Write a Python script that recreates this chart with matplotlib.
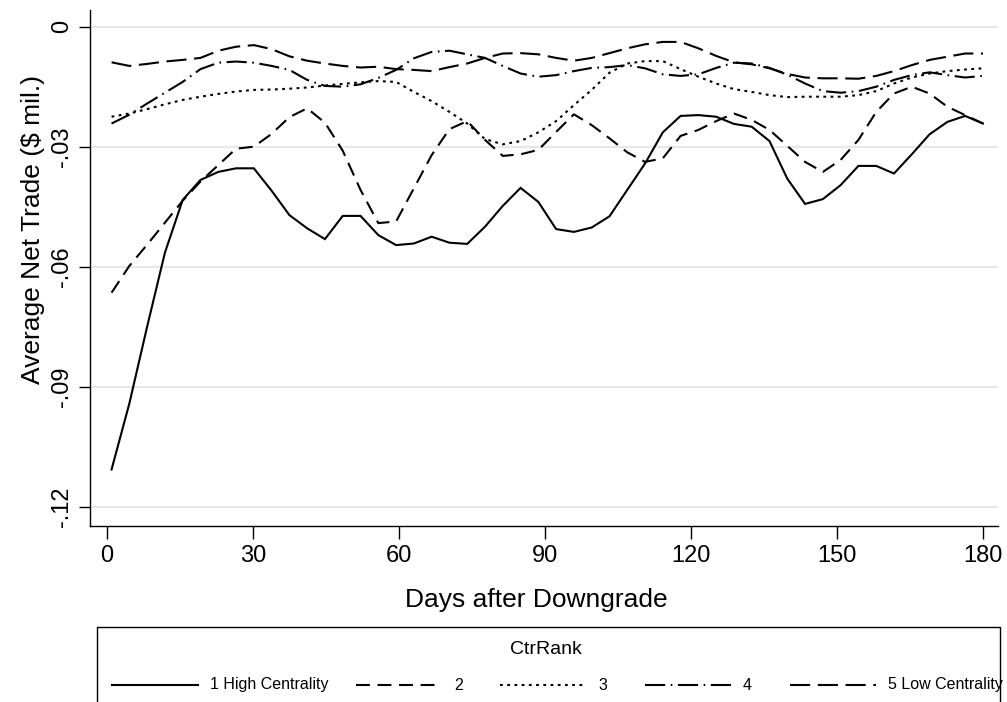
import numpy as np
import matplotlib
matplotlib.use("Agg")
import matplotlib.pyplot as plt
from matplotlib.lines import Line2D
from matplotlib.patches import Rectangle

plt.rcParams['font.family'] = ['Liberation Sans', 'DejaVu Sans']
plt.rcParams['lines.scale_dashes'] = False

# ---- data ----
days = np.linspace(1, 180, 50)
xticks = [0, 30, 60, 90, 120, 150, 180]
yticks = [0, -0.03, -0.06, -0.09, -0.12]
ytick_labels = ["0", "-.03", "-.06", "-.09", "-.12"]
series_labels = ["1 High Centrality", "2", "3", "4", "5 Low Centrality"]

rank1 = [-0.1107, -0.0942, -0.0750, -0.0565, -0.0433, -0.0383, -0.0363, -0.0354, -0.0354, -0.0410,
         -0.0471, -0.0504, -0.0531, -0.0473, -0.0473, -0.0521, -0.0546, -0.0542, -0.0525, -0.0540,
         -0.0543, -0.0500, -0.0448, -0.0403, -0.0438, -0.0506, -0.0513, -0.0502, -0.0474, -0.0408,
         -0.0342, -0.0264, -0.0223, -0.0221, -0.0225, -0.0243, -0.0250, -0.0286, -0.0380, -0.0443,
         -0.0431, -0.0396, -0.0348, -0.0348, -0.0367, -0.0319, -0.0269, -0.0238, -0.0223, -0.0242]
rank2 = [-0.0665, -0.0598, -0.0545, -0.0490, -0.0435, -0.0387, -0.0346, -0.0305, -0.0300, -0.0268,
         -0.0226, -0.0204, -0.0240, -0.0310, -0.0408, -0.0491, -0.0487, -0.0404, -0.0321, -0.0256,
         -0.0236, -0.0283, -0.0323, -0.0319, -0.0308, -0.0263, -0.0219, -0.0246, -0.0279, -0.0314,
         -0.0338, -0.0329, -0.0273, -0.0258, -0.0236, -0.0217, -0.0233, -0.0258, -0.0298, -0.0338,
         -0.0363, -0.0333, -0.0283, -0.0213, -0.0167, -0.0150, -0.0167, -0.0200, -0.0221, -0.0242]
rank3 = [-0.0225, -0.0217, -0.0206, -0.0194, -0.0183, -0.0175, -0.0168, -0.0162, -0.0158, -0.0157,
         -0.0155, -0.0152, -0.0147, -0.0143, -0.0139, -0.0136, -0.0138, -0.0163, -0.0186, -0.0213,
         -0.0242, -0.0281, -0.0294, -0.0286, -0.0264, -0.0236, -0.0196, -0.0158, -0.0115, -0.0092,
         -0.0086, -0.0086, -0.0106, -0.0125, -0.0142, -0.0156, -0.0163, -0.0171, -0.0176, -0.0175,
         -0.0175, -0.0175, -0.0171, -0.0161, -0.0142, -0.0127, -0.0117, -0.0111, -0.0107, -0.0104]
rank4 = [-0.0242, -0.0220, -0.0192, -0.0165, -0.0138, -0.0106, -0.0090, -0.0087, -0.0090, -0.0098,
         -0.0108, -0.0133, -0.0148, -0.0150, -0.0144, -0.0128, -0.0108, -0.0079, -0.0063, -0.0060,
         -0.0069, -0.0078, -0.0098, -0.0117, -0.0125, -0.0121, -0.0111, -0.0103, -0.0101, -0.0096,
         -0.0104, -0.0119, -0.0123, -0.0119, -0.0103, -0.0090, -0.0092, -0.0103, -0.0120, -0.0142,
         -0.0161, -0.0165, -0.0161, -0.0150, -0.0133, -0.0121, -0.0114, -0.0121, -0.0127, -0.0123]
rank5 = [-0.0089, -0.0098, -0.0093, -0.0087, -0.0083, -0.0078, -0.0060, -0.0050, -0.0046, -0.0056,
         -0.0074, -0.0085, -0.0092, -0.0098, -0.0102, -0.0100, -0.0106, -0.0108, -0.0111, -0.0101,
         -0.0092, -0.0078, -0.0067, -0.0066, -0.0069, -0.0078, -0.0085, -0.0078, -0.0066, -0.0054,
         -0.0044, -0.0038, -0.0038, -0.0054, -0.0073, -0.0089, -0.0094, -0.0104, -0.0118, -0.0127,
         -0.0129, -0.0129, -0.0130, -0.0123, -0.0111, -0.0096, -0.0083, -0.0075, -0.0067, -0.0067]

all_series = [rank1, rank2, rank3, rank4, rank5]
styles = [
    '-',
    (0, (10, 5.5)),
    (0, (2.0, 3.2)),
    (0, (14.5, 4.0, 1.2, 4.0)),
    (0, (14.5, 5.5)),
]

W, H = 1007, 702
fig = plt.figure(figsize=(W / 100, H / 100), dpi=100)
ax_l, ax_r, ax_t, ax_b = 90, 998, 10, 526
ax = fig.add_axes([ax_l / W, 1 - ax_b / H, (ax_r - ax_l) / W, (ax_b - ax_t) / H])

for vals, ls in zip(all_series, styles):
    ax.plot(days, vals, color='black', lw=1.5, linestyle=ls, dash_capstyle='butt',
            solid_joinstyle='miter')

ax.set_xlim(-3.43, 183.1)
ax.set_ylim(-0.12483, 0.00418)
ax.set_xticks(xticks)
ax.set_yticks(yticks)
ax.set_yticklabels(ytick_labels, rotation=90, va='center')
ax.tick_params(axis='x', length=9, width=1, labelsize=17, pad=5, direction='out')
ax.tick_params(axis='y', length=8, width=1, labelsize=17, pad=4, direction='out')
ax.grid(axis='y', color='#e8e8e8', lw=1.6, zorder=0)
ax.set_axisbelow(True)
for s in ['top', 'right']:
    ax.spines[s].set_visible(False)
for s in ['left', 'bottom']:
    ax.spines[s].set_linewidth(1.0)

ax.set_xlabel('Days after Downgrade', fontsize=19)
ax.set_ylabel('Average Net Trade ($ mil.)', fontsize=19)
# label positions (axes fraction) from reference pixel positions
ax.xaxis.set_label_coords((536 - ax_l) / (ax_r - ax_l), (ax_b - 600) / (ax_b - ax_t))
ax.yaxis.set_label_coords((33 - ax_l) / (ax_r - ax_l), (ax_b - 230) / (ax_b - ax_t))
ax.xaxis.label.set_va('center')
ax.yaxis.label.set_va('center')

# ---- legend box (Stata style, cut off at bottom) ----
def fx(px):
    return px / W

def fy(py):
    return 1 - py / H

fig.patches.append(Rectangle((fx(97), fy(720)), fx(1000) - fx(97), fy(627) - fy(720),
                             transform=fig.transFigure, fill=False, edgecolor='black', lw=1.0))
fig.text(fx(546), fy(650), 'CtrRank', fontsize=14, ha='center', va='center')
key_x = [112, 356, 500, 645, 790]
key_len = 86
for kx, ls, lab in zip(key_x, styles, series_labels):
    fig.add_artist(Line2D([fx(kx), fx(kx + key_len)], [fy(685), fy(685)],
                          transform=fig.transFigure, color='black', lw=1.5,
                          linestyle=ls, dash_capstyle='butt'))
    fig.text(fx(kx + key_len + 12), fy(685), lab, fontsize=11.5, ha='left', va='center')

fig.savefig('out.png', dpi=100)
